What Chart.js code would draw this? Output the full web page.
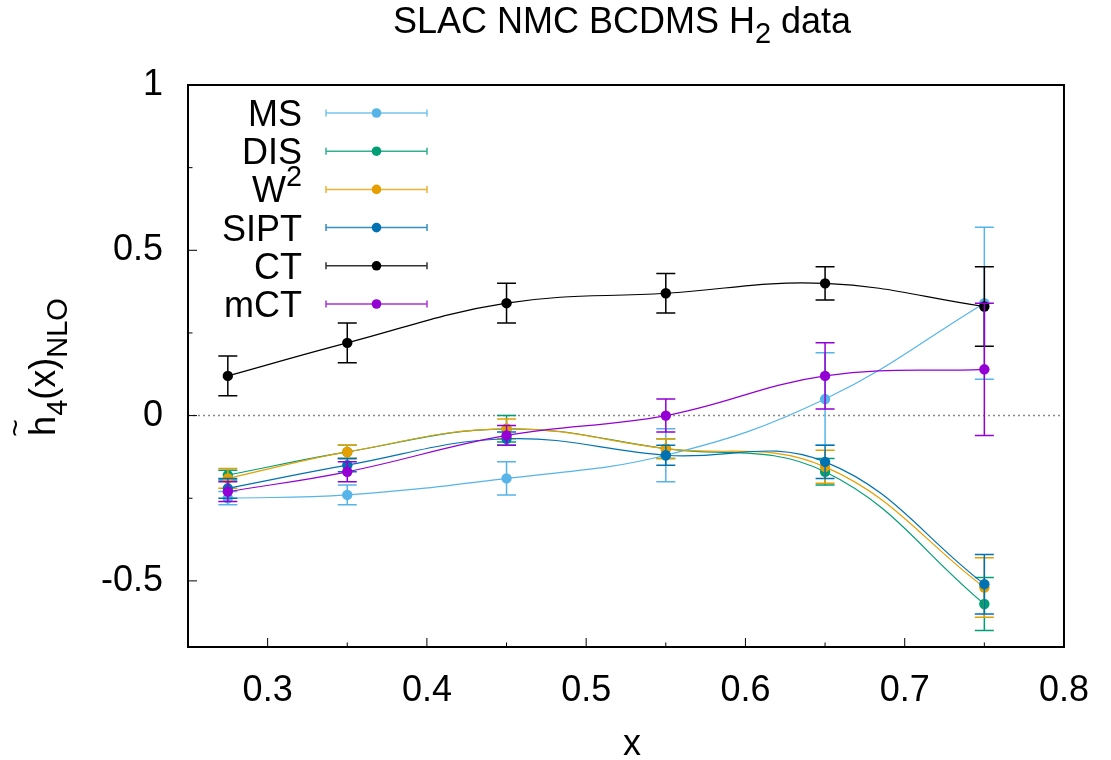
<!DOCTYPE html>
<html>
<head>
<meta charset="utf-8">
<script src="https://cdn.jsdelivr.net/npm/chart.js@4.4.1/dist/chart.umd.min.js"></script>
<style>
  html, body { margin: 0; padding: 0; background: #fff; }
  canvas { display: block; }
</style>
</head>
<body>
<canvas id="mainChart" width="1111" height="760"></canvas>
<script>
// values
const xValues = [0.275, 0.35, 0.45, 0.55, 0.65, 0.75];

const msValues   = [-0.25, -0.24, -0.19, -0.12, 0.05, 0.34];
const msErrors   = [0.02, 0.03, 0.05, 0.08, 0.14, 0.23];
const disValues  = [-0.18, -0.11, -0.04, -0.10, -0.17, -0.57];
const disErrors  = [0.015, 0.02, 0.04, 0.03, 0.04, 0.08];
const w2Values   = [-0.19, -0.11, -0.04, -0.10, -0.155, -0.52];
const w2Errors   = [0.03, 0.02, 0.03, 0.03, 0.05, 0.09];
const siptValues = [-0.22, -0.15, -0.07, -0.12, -0.14, -0.51];
const siptErrors = [0.03, 0.02, 0.02, 0.03, 0.05, 0.09];
const ctValues   = [0.12, 0.22, 0.34, 0.37, 0.40, 0.33];
const ctErrors   = [0.06, 0.06, 0.06, 0.06, 0.05, 0.12];
const mctValues  = [-0.23, -0.17, -0.06, 0.0, 0.12, 0.14];
const mctErrors  = [0.03, 0.03, 0.03, 0.05, 0.10, 0.20];

const seriesNames = ['MS', 'DIS', 'W^2', 'SIPT', 'CT', 'mCT'];
const seriesValues = [msValues, disValues, w2Values, siptValues, ctValues, mctValues];
const seriesErrors = [msErrors, disErrors, w2Errors, siptErrors, ctErrors, mctErrors];
const seriesColors = ['#56b4e9', '#009e73', '#e69f00', '#0072b2', '#000000', '#9400d3'];

const xTicks = [0.3, 0.4, 0.5, 0.6, 0.7, 0.8];
const xMinorTicks = [0.35, 0.45, 0.55, 0.65, 0.75];
const yTicks = [-0.5, 0, 0.5, 1];
const yMinorTicks = [-0.25, 0.25, 0.75];

const FONT = '"Liberation Sans", Arial, Helvetica, sans-serif';

function font(size) { return size + 'px ' + FONT; }

// draws "W^2" style labels; align 'right' means x is the right edge
function drawRich(ctx, text, x, y, size, align) {
    const parts = text.split('^');
    ctx.font = font(size);
    const w0 = ctx.measureText(parts[0]).width;
    ctx.font = font(size * 0.8);
    const w1 = parts[1] ? ctx.measureText(parts[1]).width : 0;
    let start = align === 'right' ? x - w0 - w1 : x;
    ctx.textAlign = 'left';
    ctx.font = font(size);
    ctx.fillText(parts[0], start, y);
    if (parts[1]) {
        ctx.font = font(size * 0.8);
        ctx.fillText(parts[1], start + w0, y - size * 0.45);
    }
}

const gnuplotLook = {
    id: 'gnuplotLook',
    beforeDatasetsDraw(chart) {
        const { ctx, chartArea: a, scales: { y } } = chart;
        const y0 = y.getPixelForValue(0);
        ctx.save();
        ctx.strokeStyle = '#888';
        ctx.lineWidth = 1.5;
        ctx.setLineDash([2, 3]);
        ctx.beginPath();
        ctx.moveTo(a.left, y0);
        ctx.lineTo(a.right, y0);
        ctx.stroke();
        ctx.restore();
    },
    beforeDatasetDraw(chart, args) {
        const ds = chart.data.datasets[args.index];
        const { ctx, scales: { x, y } } = chart;
        ctx.save();
        ctx.strokeStyle = ds.borderColor;
        ctx.lineWidth = 1.5;
        ds.data.forEach((p, k) => {
            const px = x.getPixelForValue(p.x);
            const top = y.getPixelForValue(p.y + ds.errors[k]);
            const bot = y.getPixelForValue(p.y - ds.errors[k]);
            ctx.beginPath();
            ctx.moveTo(px, top); ctx.lineTo(px, bot);
            ctx.moveTo(px - 9.5, top); ctx.lineTo(px + 9.5, top);
            ctx.moveTo(px - 9.5, bot); ctx.lineTo(px + 9.5, bot);
            ctx.stroke();
        });
        ctx.restore();
    },
    afterDatasetsDraw(chart) {
        const { ctx, chartArea: a, scales: { x, y } } = chart;
        ctx.save();
        ctx.strokeStyle = '#000';
        ctx.lineWidth = 1;
        ctx.beginPath();
        xTicks.forEach(v => { const px = x.getPixelForValue(v); ctx.moveTo(px, a.bottom); ctx.lineTo(px, a.bottom - 9); });
        xMinorTicks.forEach(v => { const px = x.getPixelForValue(v); ctx.moveTo(px, a.bottom); ctx.lineTo(px, a.bottom - 4.5); });
        yTicks.forEach(v => { const py = y.getPixelForValue(v); ctx.moveTo(a.left, py); ctx.lineTo(a.left + 9, py); });
        yMinorTicks.forEach(v => { const py = y.getPixelForValue(v); ctx.moveTo(a.left, py); ctx.lineTo(a.left + 4.5, py); });
        ctx.stroke();
        ctx.lineWidth = 2;
        ctx.strokeRect(a.left, a.top, a.right - a.left, a.bottom - a.top);
        ctx.restore();
    },
    afterDraw(chart) {
        const { ctx } = chart;
        ctx.save();
        ctx.fillStyle = '#000';
        ctx.textBaseline = 'alphabetic';

        // title with subscript
        const t1 = 'SLAC NMC BCDMS H', t2 = '2', t3 = ' data';
        ctx.font = font(36);
        const w1 = ctx.measureText(t1).width, w3 = ctx.measureText(t3).width;
        ctx.font = font(29);
        const w2 = ctx.measureText(t2).width;
        let tx = 622 - (w1 + w2 + w3) / 2;
        ctx.textAlign = 'left';
        ctx.font = font(36); ctx.fillText(t1, tx, 33);
        ctx.font = font(29); ctx.fillText(t2, tx + w1, 43);
        ctx.font = font(36); ctx.fillText(t3, tx + w1 + w2, 33);

        // x label
        ctx.textAlign = 'center';
        ctx.font = font(36);
        ctx.fillText('x', 632, 755);

        // y label, rotated
        ctx.save();
        ctx.translate(55, 367);
        ctx.rotate(-Math.PI / 2);
        ctx.textAlign = 'left';
        const parts = [['h', 36, 0], ['4', 29, 12], ['(x)', 36, 0], ['NLO', 29, 12]];
        let total = 0;
        parts.forEach(p => { ctx.font = font(p[1]); p.push(ctx.measureText(p[0]).width); total += p[3]; });
        let lx = -total / 2;
        const hCenter = lx + parts[0][3] / 2;
        parts.forEach(p => { ctx.font = font(p[1]); ctx.fillText(p[0], lx, p[2]); lx += p[3]; });
        ctx.font = font(30);
        ctx.textAlign = 'center';
        ctx.fillText('~', hCenter - 2, -30);
        ctx.restore();

        // legend
        seriesNames.forEach((name, i) => {
            const ly = 113 + i * 38.2;
            ctx.fillStyle = '#000';
            drawRich(ctx, name, 302, ly + 13, 36, 'right');
            ctx.strokeStyle = seriesColors[i];
            ctx.globalAlpha = 0.8;
            ctx.lineWidth = 1.5;
            ctx.beginPath();
            ctx.moveTo(326, ly); ctx.lineTo(427, ly);
            ctx.moveTo(326, ly - 3.5); ctx.lineTo(326, ly + 3.5);
            ctx.moveTo(427, ly - 3.5); ctx.lineTo(427, ly + 3.5);
            ctx.stroke();
            ctx.globalAlpha = 1;
            ctx.fillStyle = seriesColors[i];
            ctx.beginPath();
            ctx.arc(376.5, ly, 4.8, 0, Math.PI * 2);
            ctx.fill();
        });
        ctx.restore();
    }
};

const datasets = seriesNames.map((name, i) => ({
    label: name,
    data: xValues.map((x, k) => ({ x: x, y: seriesValues[i][k] })),
    errors: seriesErrors[i],
    borderColor: seriesColors[i],
    backgroundColor: seriesColors[i],
    pointBackgroundColor: seriesColors[i],
    pointBorderWidth: 0,
    pointRadius: 5.2,
    borderWidth: 1.2,
    tension: 0.4,
    fill: false,
    order: seriesNames.length - i
}));

const ctx = document.getElementById('mainChart').getContext('2d');
const chart = new Chart(ctx, {
    type: 'line',
    data: { datasets: datasets },
    options: {
        responsive: false,
        animation: false,
        devicePixelRatio: 1,
        layout: { padding: { top: 85, right: 36, left: 0, bottom: 0 } },
        scales: {
            x: {
                type: 'linear',
                min: 0.25,
                max: 0.8,
                afterBuildTicks: s => { s.ticks = xTicks.map(v => ({ value: v })); },
                afterFit: s => { s.height = 113; },
                grid: { display: false, drawTicks: false },
                border: { display: false },
                ticks: {
                    font: { family: FONT, size: 36 },
                    color: '#000',
                    padding: 22,
                    maxRotation: 0,
                    autoSkip: false,
                    callback: v => String(v)
                }
            },
            y: {
                min: -0.7,
                max: 1,
                afterBuildTicks: s => { s.ticks = yTicks.map(v => ({ value: v })); },
                afterFit: s => { s.width = 188; },
                grid: { display: false, drawTicks: false },
                border: { display: false },
                ticks: {
                    font: { family: FONT, size: 36 },
                    color: '#000',
                    padding: 25,
                    autoSkip: false,
                    callback: v => String(v)
                }
            }
        },
        plugins: {
            legend: { display: false },
            tooltip: { enabled: false },
            title: { display: false }
        }
    },
    plugins: [gnuplotLook]
});
</script>
</body>
</html>
